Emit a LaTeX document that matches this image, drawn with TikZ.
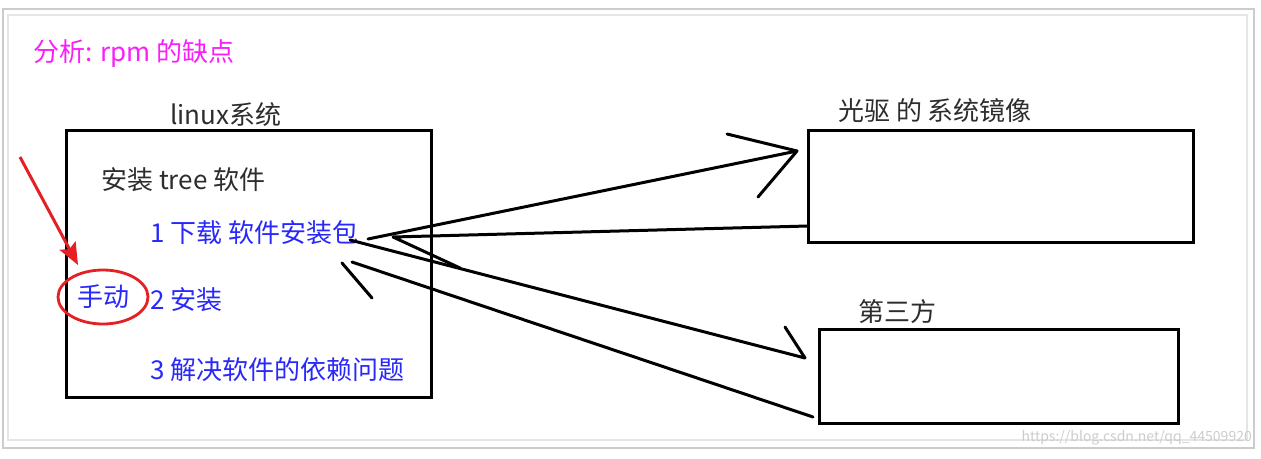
\documentclass[tikz,border=0pt]{standalone}
\usepackage{fontspec}
\newfontfamily\cjk{Noto Sans CJK SC}
\usetikzlibrary{shapes.geometric}
\usetikzlibrary{arrows.meta}
\definecolor{mag}{RGB}{250,30,250}
\definecolor{stepblue}{RGB}{40,40,250}
\definecolor{lbl}{RGB}{45,45,45}
\definecolor{hred}{RGB}{228,32,36}

\begin{document}
\begin{tikzpicture}[x=1pt,y=-1pt,
  box/.style={draw, line width=3pt, inner sep=0, outer sep=0},
  t/.style={font=\cjk\fontsize{26}{30}\selectfont, inner sep=0, anchor=west},
  hand/.style={line width=3pt, line cap=round, line join=round}]
  \useasboundingbox (0,0) rectangle (1261,458);
  \draw[black!20, line width=1.5pt] (3,9) rectangle (1254,448);
  \draw[black!10, line width=1.5pt] (8,15) rectangle (1247,440);

  \node[t, text=mag] (title) at (33,54) {分析: rpm 的缺点};

  \node[box, minimum width=365, minimum height=267] (linux) at (248.5,263.5) {};
  \node[t, text=lbl] (linuxl) at (170,115) {linux系统};
  \node[t, text=lbl] (tree) at (101,180) {安装 tree 软件};
  \foreach \i/\s/\y in {1/下载 软件安装包/233,2/安装/300,3/解决软件的依赖问题/370}
    \node[t, text=stepblue] (s\i) at (150,\y) {\i\ \s};

  \node[box, minimum width=385, minimum height=112] (img) at (1000.5,186) {};
  \node[t, text=lbl] (imgl) at (838,111) {光驱 的 系统镜像};
  \node[box, minimum width=359, minimum height=94] (third) at (998.5,376) {};
  \node[t, text=lbl] (thirdl) at (858,312) {第三方};

  % hand drawn connectors
  \coordinate (p1) at (368,239); \coordinate (p2) at (393,237);
  \coordinate (p3) at (350,240); \coordinate (p4) at (352,262);
  \coordinate (m1) at (797,151); \coordinate (m2) at (img.west |- 0,226);
  \coordinate (t1) at (805,358); \coordinate (t2) at (813,417);

  \draw[hand] (p1) -- (m1);
  \draw[hand] (727,134) -- (m1) -- (758,197);
  \draw[hand] (m2) -- (p2) -- (460,268);
  \draw[hand] (p3) -- (t1) -- (785,327);
  \draw[hand] (t2) -- (p4);
  \draw[hand] (342,263) -- (372,298);

  \node[ellipse, draw=hred, line width=2.8pt, minimum width=90, minimum height=54,
    inner sep=0, text=stepblue, font=\cjk\fontsize{26}{30}\selectfont] (manual) at (103,297) {手动};
  \coordinate (r0) at (20,157);
  \draw[hred, line width=3pt, -{Stealth[length=22pt,width=18pt,inset=4pt]}] (r0) -- (78,265);

  \node[font=\cjk\fontsize{14}{16}\selectfont, text=black!20, anchor=east, inner sep=0] (url) at (1252,438) {https://blog.csdn.net/qq\_44509920};
\end{tikzpicture}
\end{document}
